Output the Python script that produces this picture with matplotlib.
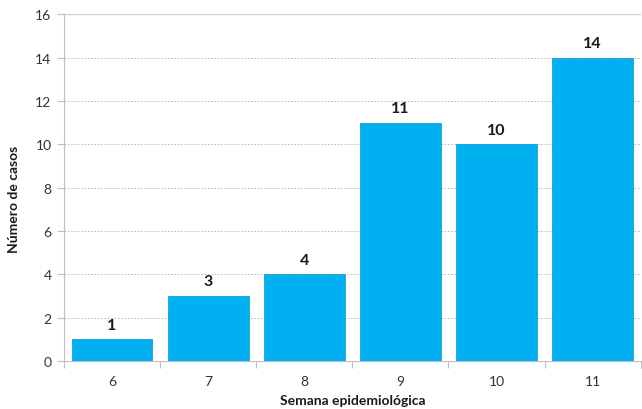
import matplotlib
matplotlib.use("Agg")
import matplotlib.pyplot as plt
import numpy as np

semanas = ["6", "7", "8", "9", "10", "11"]
casos = [1, 3, 4, 11, 10, 14]
y_ticks = [0, 2, 4, 6, 8, 10, 12, 14, 16]

plt.rcParams["font.family"] = ["Lato", "DejaVu Sans"]

fig = plt.figure(figsize=(6.42, 4.10), dpi=100)
ax = fig.add_axes([0.0997, 0.117, 0.8983, 0.846])

x = np.arange(len(semanas))
ax.bar(x, casos, width=0.84, color="#00B0F0", edgecolor="#1aa0d8",
       linewidth=0.6, zorder=3)

for xi, v in zip(x, casos):
    ax.text(xi, v + 0.35, str(v), ha="center", va="bottom",
            fontsize=11.5, fontweight="bold", color="#1a1a1a")

ax.set_xlim(-0.5, len(semanas) - 0.5)
ax.set_ylim(0, 16)
ax.set_yticks(y_ticks)
ax.set_yticklabels([str(t) for t in y_ticks], fontsize=10, color="#333333")

ax.set_xticks(x)
ax.set_xticklabels(semanas, fontsize=10, color="#333333")
ax.tick_params(axis="x", which="major", length=0, pad=10)
ax.set_xticks(np.arange(-0.5, len(semanas)), minor=True)
ax.tick_params(axis="x", which="minor", length=5, color="#bfbfbf", width=0.8)
ax.tick_params(axis="y", length=5, color="#bfbfbf", width=0.8, pad=4)

for t in y_ticks[1:-1]:
    ax.axhline(t, color="#b0b0b0", linestyle=(0, (2, 2)), linewidth=0.6, zorder=1)
ax.axhline(16, color="#d0d0d0", linewidth=1.0, zorder=1)

for s in ["top", "right"]:
    ax.spines[s].set_visible(False)
for s in ["left", "bottom"]:
    ax.spines[s].set_color("#bfbfbf")
    ax.spines[s].set_linewidth(0.8)

ax.set_xlabel("Semana epidemiológica", fontsize=10, fontweight="bold",
              color="#1a1a1a", labelpad=5)
ax.set_ylabel("Número de casos", fontsize=10, fontweight="bold",
              color="#1a1a1a")
ax.yaxis.set_label_coords(-0.076, 0.47)

fig.savefig("out.png", dpi=100)
